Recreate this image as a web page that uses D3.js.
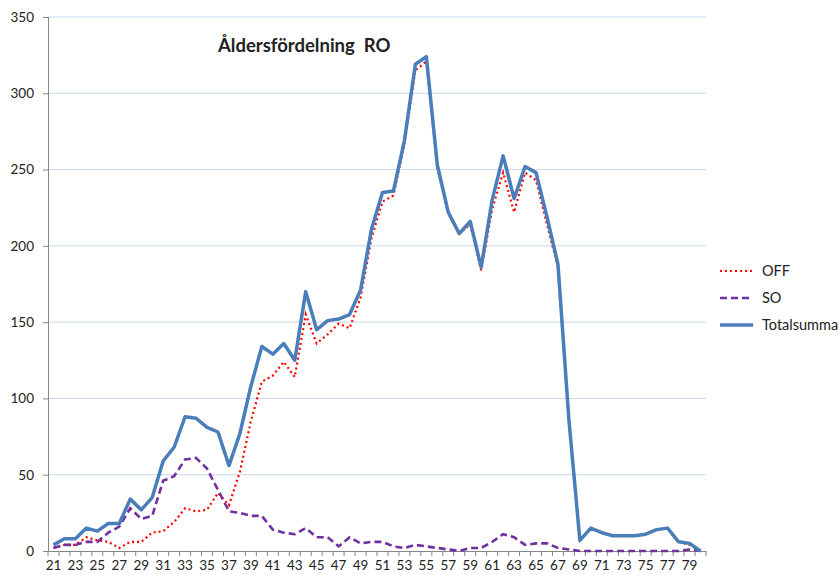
<!DOCTYPE html>
<html>
<head>
<meta charset="utf-8">
<script src="https://cdn.jsdelivr.net/npm/d3@7"></script>
<style>
  body { margin: 0; background: #fff; }
  svg text { font-family: Lato, "Open Sans", sans-serif; fill: #222; }
</style>
</head>
<body>
<div id="chart"></div>
<script>
// åldrar 21..80
var alder = d3.range(21, 81);
var off = [2, 4, 4, 9, 7, 6, 2, 6, 6, 12, 13, 19, 28, 26, 27, 38, 30, 52, 85, 111,
           115, 124, 114, 155, 136, 142, 149, 146, 166, 205, 229, 233, 267, 315, 321, 251, 221, 208, 214, 184,
           224, 248, 222, 248, 243, 214, 186, 85, 7, 15, 12, 10, 10, 10, 11, 14, 15, 6, 4, 0];
var so = [2, 4, 4, 6, 6, 12, 16, 28, 21, 23, 46, 49, 60, 61, 54, 40, 26, 25, 23, 23,
          14, 12, 11, 15, 9, 9, 3, 9, 5, 6, 6, 3, 2, 4, 3, 2, 1, 0, 2, 2,
          6, 11, 9, 4, 5, 5, 2, 1, 0, 0, 0, 0, 0, 0, 0, 0, 0, 0, 1, 0];
var total = [4, 8, 8, 15, 13, 18, 18, 34, 27, 35, 59, 68, 88, 87, 81, 78, 56, 77, 108, 134,
             129, 136, 125, 170, 145, 151, 152, 155, 171, 211, 235, 236, 269, 319, 324, 253, 222, 208, 216, 186,
             230, 259, 231, 252, 248, 219, 188, 86, 7, 15, 12, 10, 10, 10, 11, 14, 15, 6, 5, 0];
var yTicks = [0, 50, 100, 150, 200, 250, 300, 350];

var W = 840, H = 575;
var m = {top: 17, right: 134, bottom: 24, left: 48};
var bredd = W - m.left - m.right, hojd = H - m.top - m.bottom;

var svg = d3.select('#chart').append('svg').attr('width', W).attr('height', H);
var g = svg.append('g').attr('transform', 'translate(' + m.left + ',' + m.top + ')');

var x = d3.scaleBand().domain(alder).range([0, bredd]);
var y = d3.scaleLinear().domain([0, 350]).range([hojd, 0]);
var cx = function(a) { return x(a) + x.bandwidth() / 2; };

// rutnät
g.selectAll('.grid').data(yTicks.slice(1)).enter().append('line')
  .attr('x1', 0).attr('x2', bredd)
  .attr('y1', d => y(d)).attr('y2', d => y(d))
  .attr('stroke', '#c9d9ef').attr('stroke-width', 1);

// y-axel
var ya = g.append('g').call(d3.axisLeft(y).tickValues(yTicks).tickSize(5).tickPadding(9));
ya.selectAll('line, path').attr('stroke', '#868686');
ya.select('.domain').attr('d', 'M0.5,0V' + hojd);
ya.selectAll('text').style('font-size', '13.5px');

// x-axel
var xa = g.append('g').attr('transform', 'translate(0,' + hojd + ')')
  .call(d3.axisBottom(x).tickSize(0).tickPadding(9)
    .tickFormat(d => (d - 21) % 2 === 0 ? d : ''));
xa.select('.domain').attr('stroke', '#868686').attr('d', 'M0,0.5H' + bredd);
xa.selectAll('text').style('font-size', '13.5px');
g.append('g').selectAll('line').data(alder.concat([81])).enter().append('line')
  .attr('x1', d => d === 81 ? bredd : x(d)).attr('x2', d => d === 81 ? bredd : x(d))
  .attr('y1', hojd).attr('y2', hojd + 5)
  .attr('stroke', '#868686');

var linje = function(vals) {
  return d3.line().x((d, i) => cx(alder[i])).y(d => y(d))(vals);
};

g.append('path').attr('d', linje(off)).attr('fill', 'none')
  .attr('stroke', '#ff0000').attr('stroke-width', 2.2)
  .attr('stroke-dasharray', '2,3').attr('stroke-linecap', 'butt');
g.append('path').attr('d', linje(so)).attr('fill', 'none')
  .attr('stroke', '#7030a0').attr('stroke-width', 2.6)
  .attr('stroke-dasharray', '7,4');
g.append('path').attr('d', linje(total)).attr('fill', 'none')
  .attr('stroke', '#4a7ebb').attr('stroke-width', 3.5)
  .attr('stroke-linejoin', 'round');

// titel
svg.append('text').attr('x', 218).attr('y', 52)
  .style('font-size', '18.5px').style('font-weight', 'bold').style('white-space', 'pre')
  .attr('fill', '#000')
  .text('Åldersfördelning  RO');

// legend
var serier = [
  {namn: 'OFF', farg: '#ff0000', w: 2.2, dash: '2,3'},
  {namn: 'SO', farg: '#7030a0', w: 2.6, dash: '7,4'},
  {namn: 'Totalsumma', farg: '#4a7ebb', w: 3.5, dash: null}
];
var leg = svg.append('g').selectAll('g').data(serier).enter().append('g')
  .attr('transform', (d, i) => 'translate(720,' + (271 + i * 27) + ')');
leg.append('line').attr('x1', 0).attr('x2', 33)
  .attr('stroke', d => d.farg).attr('stroke-width', d => d.w)
  .attr('stroke-dasharray', d => d.dash);
leg.append('text').attr('x', 42).attr('y', 5).style('font-size', '14.5px').text(d => d.namn);
</script>
</body>
</html>
